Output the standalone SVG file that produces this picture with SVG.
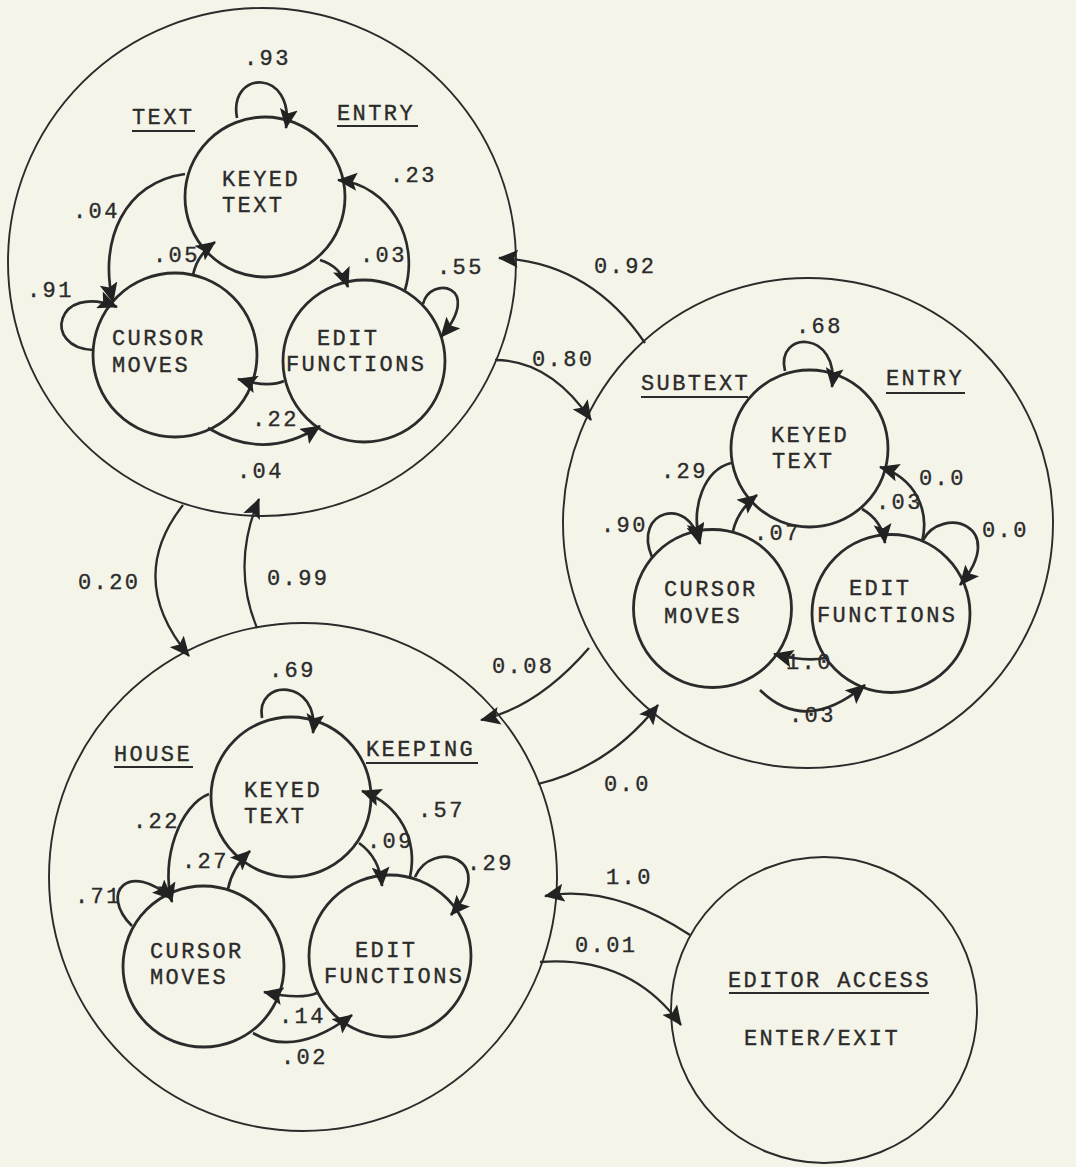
<svg xmlns="http://www.w3.org/2000/svg" width="1076" height="1167" viewBox="0 0 1076 1167">
<style>
.bg{fill:#f4f4e9}
.big{fill:none;stroke:#2b2b2b;stroke-width:1.9}
.st{fill:none;stroke:#2b2b2b;stroke-width:2.8}
.c{fill:none;stroke:#2b2b2b;stroke-width:2.7}
.cb{fill:none;stroke:#2b2b2b;stroke-width:2.3}
.ul{stroke:#2b2b2b;stroke-width:1.8}
text{font-family:"Liberation Mono","DejaVu Sans Mono",monospace;font-size:22px;letter-spacing:2.4px;fill:#2b2b2b;stroke:#2b2b2b;stroke-width:0.35}
</style>
<defs>
<marker id="ah" viewBox="0 0 20 18" refX="19" refY="9" markerWidth="20" markerHeight="18" markerUnits="userSpaceOnUse" orient="auto">
<polygon points="0,0 20,9 0,18 4,9" fill="#222222" stroke="none"/>
</marker>
</defs>
<rect class="bg" x="0" y="0" width="1076" height="1167"/>

<g id="text-entry">
<circle class="big" cx="262" cy="262" r="254"/>
<text x="132" y="124">TEXT</text><line class="ul" x1="132" y1="131" x2="195" y2="131"/>
<text x="337" y="120">ENTRY</text><line class="ul" x1="337" y1="126" x2="418" y2="126"/>
</g>
<g id="te-keyed"><circle class="st" cx="265" cy="197" r="80"/><text x="222" y="186">KEYED</text><text x="222" y="212">TEXT</text></g>
<g id="te-cursor"><circle class="st" cx="175" cy="355" r="82"/><text x="112" y="345">CURSOR</text><text x="112" y="372">MOVES</text></g>
<g id="te-edit"><circle class="st" cx="364" cy="361" r="81"/><text x="317" y="345">EDIT</text><text x="286" y="371">FUNCTIONS</text></g>

<g id="subtext-entry">
<circle class="big" cx="808" cy="523" r="245"/>
<text x="641" y="390">SUBTEXT</text><line class="ul" x1="641" y1="397" x2="748" y2="397"/>
<text x="886" y="385">ENTRY</text><line class="ul" x1="886" y1="393" x2="965" y2="393"/>
</g>
<g id="se-keyed"><circle class="st" cx="809.5" cy="448.5" r="78.5"/><text x="771" y="442">KEYED</text><text x="772" y="468">TEXT</text></g>
<g id="se-cursor"><circle class="st" cx="712.5" cy="608.5" r="79"/><text x="664" y="596">CURSOR</text><text x="664" y="623">MOVES</text></g>
<g id="se-edit"><circle class="st" cx="891" cy="613.5" r="79"/><text x="849" y="595">EDIT</text><text x="817" y="622">FUNCTIONS</text></g>

<g id="housekeeping">
<circle class="big" cx="303" cy="877" r="254"/>
<text x="114" y="761">HOUSE</text><line class="ul" x1="114" y1="767" x2="193" y2="767"/>
<text x="366" y="756">KEEPING</text><line class="ul" x1="366" y1="763" x2="478" y2="763"/>
</g>
<g id="hk-keyed"><circle class="st" cx="291" cy="797" r="80"/><text x="244" y="797">KEYED</text><text x="244" y="823">TEXT</text></g>
<g id="hk-cursor"><circle class="st" cx="203.5" cy="966.5" r="80.5"/><text x="150" y="958">CURSOR</text><text x="150" y="984">MOVES</text></g>
<g id="hk-edit"><circle class="st" cx="390" cy="956" r="81"/><text x="355" y="957">EDIT</text><text x="324" y="983">FUNCTIONS</text></g>

<g id="editor-access">
<circle class="big" cx="824" cy="1010" r="153"/>
<text x="728" y="987">EDITOR ACCESS</text><line class="ul" x1="729" y1="993" x2="929" y2="993"/>
<text x="744" y="1045">ENTER/EXIT</text>
</g>

<g id="connectors">
<!-- text entry cluster -->
<path class="c" d="M237,118 C228,69 295,69 286,128" marker-end="url(#ah)"/>
<path class="c" d="M185,174 C125,182 98,240 113,302" marker-end="url(#ah)"/>
<path class="c" d="M93,350 C42,348 55,282 117,307" marker-end="url(#ah)"/>
<path class="c" d="M193,275 Q197,255 215,242" marker-end="url(#ah)"/>
<path class="c" d="M405,290 C420,240 390,185 338,180" marker-end="url(#ah)"/>
<path class="c" d="M320,260 Q340,266 348,287" marker-end="url(#ah)"/>
<path class="c" d="M423,304 C430,275 485,285 441,337" marker-end="url(#ah)"/>
<path class="c" d="M284,381 Q268,388 238,379" marker-end="url(#ah)"/>
<path class="c" d="M208,428 Q265,462 320,426" marker-end="url(#ah)"/>
<!-- subtext cluster -->
<path class="c" d="M785,371 C775,330 840,330 832,387" marker-end="url(#ah)"/>
<path class="c" d="M731,463 C705,470 690,505 700,544" marker-end="url(#ah)"/>
<path class="c" d="M652,557 C632,510 690,495 699,542" marker-end="url(#ah)"/>
<path class="c" d="M733,531 Q738,510 757,495" marker-end="url(#ah)"/>
<path class="c" d="M862,509 Q882,520 885,543" marker-end="url(#ah)"/>
<path class="c" d="M922,542 C930,510 915,478 880,467" marker-end="url(#ah)"/>
<path class="c" d="M923,540 C942,505 1010,525 960,585" marker-end="url(#ah)"/>
<path class="c" d="M825,658 Q805,662 774,654" marker-end="url(#ah)"/>
<path class="c" d="M760,690 Q805,735 865,685" marker-end="url(#ah)"/>
<!-- housekeeping cluster -->
<path class="c" d="M262,718 C255,678 320,678 313,733" marker-end="url(#ah)"/>
<path class="c" d="M209,794 C180,805 160,860 172,902" marker-end="url(#ah)"/>
<path class="c" d="M132,926 C98,892 130,860 172,899" marker-end="url(#ah)"/>
<path class="c" d="M228,889 Q232,868 250,851" marker-end="url(#ah)"/>
<path class="c" d="M359,843 Q380,858 382,886" marker-end="url(#ah)"/>
<path class="c" d="M410,877 C418,840 400,805 362,791" marker-end="url(#ah)"/>
<path class="c" d="M415,877 C432,838 500,858 451,915" marker-end="url(#ah)"/>
<path class="c" d="M317,993 Q300,1000 264,992" marker-end="url(#ah)"/>
<path class="c" d="M253,1033 Q295,1058 352,1015" marker-end="url(#ah)"/>
<!-- between big states -->
<path class="cb" d="M645,343 Q590,262 499,258" marker-end="url(#ah)"/>
<path class="cb" d="M495,360 Q550,360 591,420" marker-end="url(#ah)"/>
<path class="cb" d="M183,505 Q125,579 189,656" marker-end="url(#ah)"/>
<path class="cb" d="M257,628 Q231,565 259,499" marker-end="url(#ah)"/>
<path class="cb" d="M589,648 Q538,707 481,720" marker-end="url(#ah)"/>
<path class="cb" d="M538,784 Q609,767 658,705" marker-end="url(#ah)"/>
<path class="cb" d="M690,935 Q612,884 545,896" marker-end="url(#ah)"/>
<path class="cb" d="M540,962 Q630,955 681,1025" marker-end="url(#ah)"/>
</g>

<g id="labels">
<text x="244" y="65">.93</text>
<text x="390" y="182">.23</text>
<text x="73" y="218">.04</text>
<text x="153" y="262">.05</text>
<text x="360" y="262">.03</text>
<text x="27" y="297">.91</text>
<text x="437" y="274">.55</text>
<text x="252" y="426">.22</text>
<text x="237" y="478">.04</text>
<text x="78" y="589">0.20</text>
<text x="267" y="585">0.99</text>
<text x="594" y="273">0.92</text>
<text x="532" y="366">0.80</text>
<text x="796" y="333">.68</text>
<text x="661" y="478">.29</text>
<text x="919" y="485">0.0</text>
<text x="876" y="509">.03</text>
<text x="601" y="532">.90</text>
<text x="754" y="540">.07</text>
<text x="982" y="537">0.0</text>
<text x="786" y="669">1.0</text>
<text x="789" y="722">.03</text>
<text x="492" y="673">0.08</text>
<text x="604" y="791">0.0</text>
<text x="269" y="677">.69</text>
<text x="133" y="828">.22</text>
<text x="418" y="817">.57</text>
<text x="367" y="848">.09</text>
<text x="182" y="868">.27</text>
<text x="467" y="870">.29</text>
<text x="75" y="903">.71</text>
<text x="279" y="1023">.14</text>
<text x="281" y="1064">.02</text>
<text x="606" y="884">1.0</text>
<text x="575" y="952">0.01</text>
</g>
</svg>
